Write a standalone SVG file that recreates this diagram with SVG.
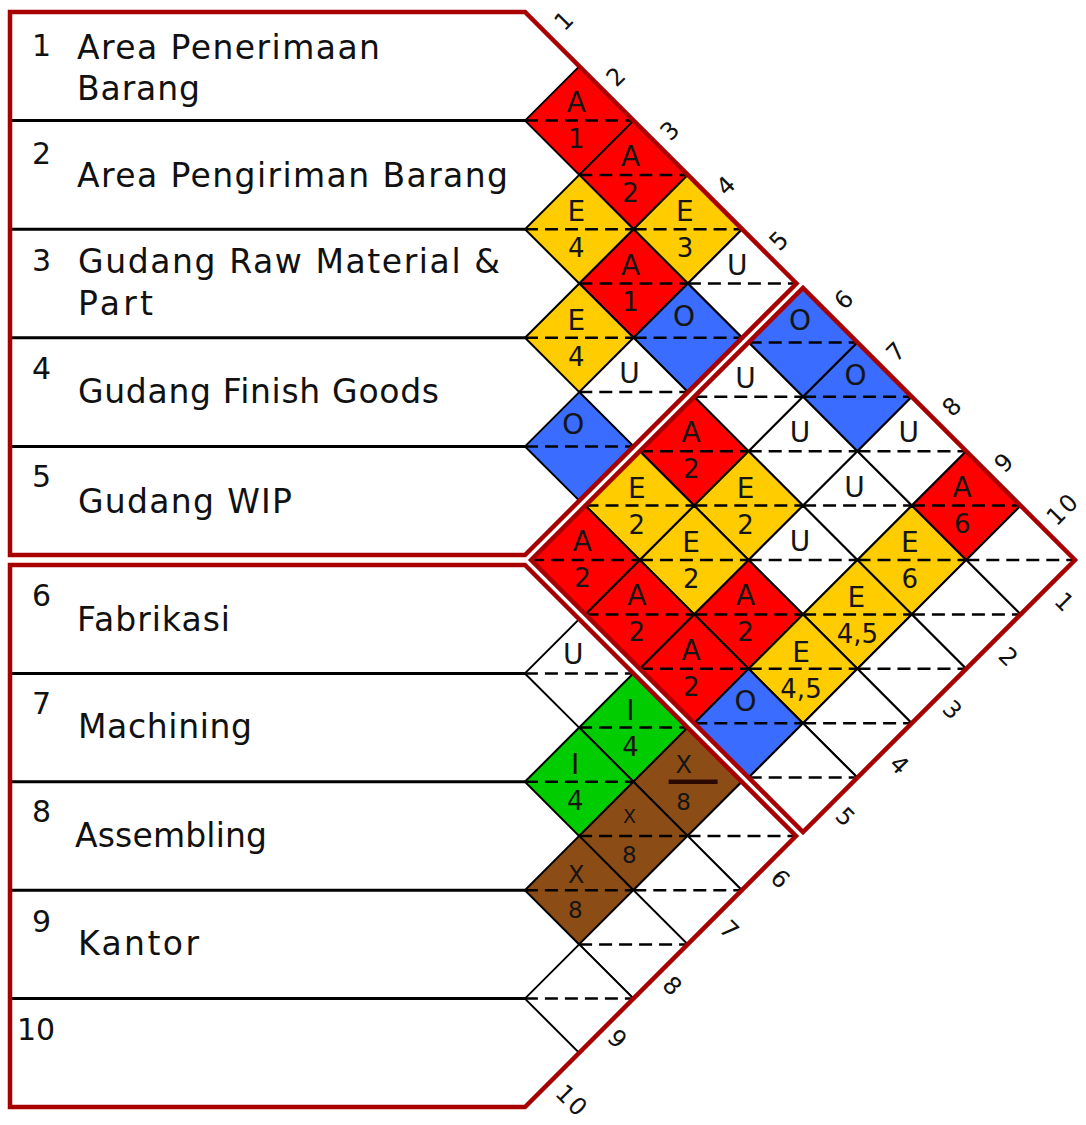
<svg xmlns="http://www.w3.org/2000/svg" xmlns:xlink="http://www.w3.org/1999/xlink" width="1086" height="1125" viewBox="0 0 1086 1125">
<defs>
<style>
.rt{font-family:"DejaVu Sans","Liberation Sans",sans-serif;font-size:33px;fill:#111}
.rn{font-family:"DejaVu Sans","Liberation Sans",sans-serif;font-size:30px;fill:#111}
.rowline{stroke:#000;stroke-width:3}
.cell{stroke:#000;stroke-width:2}
.red{fill:#ff0000}
.yel{fill:#ffcc00}
.blu{fill:#3a6cff}
.grn{fill:#00cc00}
.brn{fill:#8c4c16}
.wht{fill:#fff}
.mid{fill:none;stroke:#000;stroke-width:2.5;stroke-dasharray:13 7}
.lt{font-family:"DejaVu Sans","Liberation Sans",sans-serif;font-size:28px;text-anchor:middle;fill:#151515}
.nm{font-family:"DejaVu Sans","Liberation Sans",sans-serif;font-size:26px;text-anchor:middle;fill:#151515}
.edge{font-family:"DejaVu Sans","Liberation Sans",sans-serif;font-size:24px;text-anchor:middle;dominant-baseline:central;fill:#111}
.outline{fill:none;stroke:#a80000;stroke-width:4.5;stroke-linejoin:miter}
</style>
<path id="d" d="M-54.3 0L0 -54.3L54.3 0L0 54.3Z"/>
<path id="m" d="M-54.3 0H54.3"/>
</defs>
<rect width="1086" height="1125" fill="#fff"/>

<!-- Left department boxes -->
<g id="row-1"><text class="rn" x="32" y="56">1</text><text class="rt" x="77" y="59" textLength="303" lengthAdjust="spacing">Area Penerimaan</text><text class="rt" x="77" y="100" textLength="123" lengthAdjust="spacing">Barang</text></g>
<g id="row-2"><text class="rn" x="32" y="164">2</text><text class="rt" x="77" y="187" textLength="431" lengthAdjust="spacing">Area Pengiriman Barang</text></g>
<g id="row-3"><text class="rn" x="32" y="271">3</text><text class="rt" x="78" y="273" textLength="422" lengthAdjust="spacing">Gudang Raw Material &amp;</text><text class="rt" x="78" y="315" textLength="75" lengthAdjust="spacing">Part</text></g>
<g id="row-4"><text class="rn" x="32" y="379">4</text><text class="rt" x="78" y="403" textLength="361" lengthAdjust="spacing">Gudang Finish Goods</text></g>
<g id="row-5"><text class="rn" x="32" y="487">5</text><text class="rt" x="78" y="513" textLength="214" lengthAdjust="spacing">Gudang WIP</text></g>
<g id="row-6"><text class="rn" x="32" y="606">6</text><text class="rt" x="77" y="631" textLength="153" lengthAdjust="spacing">Fabrikasi</text></g>
<g id="row-7"><text class="rn" x="32" y="714">7</text><text class="rt" x="78" y="738" textLength="174" lengthAdjust="spacing">Machining</text></g>
<g id="row-8"><text class="rn" x="32" y="822">8</text><text class="rt" x="75" y="847" textLength="192" lengthAdjust="spacing">Assembling</text></g>
<g id="row-9"><text class="rn" x="32" y="932">9</text><text class="rt" x="78" y="955" textLength="121" lengthAdjust="spacing">Kantor</text></g>
<g id="row-10"><text class="rn" x="17" y="1040">10</text></g>

<g id="row-lines">
<line class="rowline" x1="10" y1="120.6" x2="525" y2="120.6"/>
<line class="rowline" x1="10" y1="229.2" x2="525" y2="229.2"/>
<line class="rowline" x1="10" y1="337.8" x2="525" y2="337.8"/>
<line class="rowline" x1="10" y1="446.4" x2="525" y2="446.4"/>
<line class="rowline" x1="10" y1="673.4" x2="525" y2="673.4"/>
<line class="rowline" x1="10" y1="781.8" x2="525" y2="781.8"/>
<line class="rowline" x1="10" y1="890.2" x2="525" y2="890.2"/>
<line class="rowline" x1="10" y1="998.6" x2="525" y2="998.6"/>
</g>

<!-- Top group cells (1-5) -->
<g id="c1-2" transform="translate(579.3 120.6)"><use href="#d" class="cell red"/><use href="#m" class="mid"/><text class="lt" x="-3" y="-9">A</text><text class="nm" x="-3" y="27">1</text></g>
<g id="c1-3" transform="translate(633.6 174.9)"><use href="#d" class="cell red"/><use href="#m" class="mid"/><text class="lt" x="-3" y="-9">A</text><text class="nm" x="-3" y="27">2</text></g>
<g id="c1-4" transform="translate(687.9 229.2)"><use href="#d" class="cell yel"/><use href="#m" class="mid"/><text class="lt" x="-3" y="-8">E</text><text class="nm" x="-3" y="28">3</text></g>
<g id="c1-5" transform="translate(742.2 283.5)"><use href="#d" class="cell wht"/><use href="#m" class="mid"/><text class="lt" x="-5" y="-9">U</text></g>
<g id="c2-3" transform="translate(579.3 229.2)"><use href="#d" class="cell yel"/><use href="#m" class="mid"/><text class="lt" x="-3" y="-8">E</text><text class="nm" x="-3" y="28">4</text></g>
<g id="c2-4" transform="translate(633.6 283.5)"><use href="#d" class="cell red"/><use href="#m" class="mid"/><text class="lt" x="-3" y="-9">A</text><text class="nm" x="-3" y="27">1</text></g>
<g id="c2-5" transform="translate(687.9 337.8)"><use href="#d" class="cell blu"/><use href="#m" class="mid"/><text class="lt" x="-4" y="-12">O</text></g>
<g id="c3-4" transform="translate(579.3 337.8)"><use href="#d" class="cell yel"/><use href="#m" class="mid"/><text class="lt" x="-3" y="-8">E</text><text class="nm" x="-3" y="28">4</text></g>
<g id="c3-5" transform="translate(633.6 392.1)"><use href="#d" class="cell wht"/><use href="#m" class="mid"/><text class="lt" x="-4" y="-9">U</text></g>
<g id="c4-5" transform="translate(579.3 446.4)"><use href="#d" class="cell blu"/><use href="#m" class="mid"/><text class="lt" x="-6" y="-12">O</text></g>

<!-- Cross cells (1-5 x 6-10) -->
<g id="c1-6" transform="translate(803 342.4)"><use href="#d" class="cell blu"/><use href="#m" class="mid"/><text class="lt" x="-3" y="-12">O</text></g>
<g id="c1-7" transform="translate(857.4 396.8)"><use href="#d" class="cell blu"/><use href="#m" class="mid"/><text class="lt" x="-2" y="-12">O</text></g>
<g id="c1-8" transform="translate(911.8 451.2)"><use href="#d" class="cell wht"/><use href="#m" class="mid"/><text class="lt" x="-3" y="-9">U</text></g>
<g id="c1-9" transform="translate(966.2 505.6)"><use href="#d" class="cell red"/><use href="#m" class="mid"/><text class="lt" x="-4" y="-9">A</text><text class="nm" x="-4" y="27">6</text></g>
<g id="c1-10" transform="translate(1020.6 560)"><use href="#d" class="cell wht"/><use href="#m" class="mid"/></g>
<g id="c2-6" transform="translate(748.6 396.8)"><use href="#d" class="cell wht"/><use href="#m" class="mid"/><text class="lt" x="-3" y="-9">U</text></g>
<g id="c2-7" transform="translate(803 451.2)"><use href="#d" class="cell wht"/><use href="#m" class="mid"/><text class="lt" x="-3" y="-9">U</text></g>
<g id="c2-8" transform="translate(857.4 505.6)"><use href="#d" class="cell wht"/><use href="#m" class="mid"/><text class="lt" x="-3" y="-9">U</text></g>
<g id="c2-9" transform="translate(911.8 560)"><use href="#d" class="cell yel"/><use href="#m" class="mid"/><text class="lt" x="-2" y="-8">E</text><text class="nm" x="-2" y="28">6</text></g>
<g id="c2-10" transform="translate(966.2 614.4)"><use href="#d" class="cell wht"/><use href="#m" class="mid"/></g>
<g id="c3-6" transform="translate(694.2 451.2)"><use href="#d" class="cell red"/><use href="#m" class="mid"/><text class="lt" x="-3" y="-9">A</text><text class="nm" x="-3" y="27">2</text></g>
<g id="c3-7" transform="translate(748.6 505.6)"><use href="#d" class="cell yel"/><use href="#m" class="mid"/><text class="lt" x="-3" y="-8">E</text><text class="nm" x="-3" y="28">2</text></g>
<g id="c3-8" transform="translate(803 560)"><use href="#d" class="cell wht"/><use href="#m" class="mid"/><text class="lt" x="-3" y="-9">U</text></g>
<g id="c3-9" transform="translate(857.4 614.4)"><use href="#d" class="cell yel"/><use href="#m" class="mid"/><text class="lt" x="-1" y="-7">E</text><text class="nm" x="0" y="29">4,5</text></g>
<g id="c3-10" transform="translate(911.8 668.8)"><use href="#d" class="cell wht"/><use href="#m" class="mid"/></g>
<g id="c4-6" transform="translate(639.8 505.6)"><use href="#d" class="cell yel"/><use href="#m" class="mid"/><text class="lt" x="-3" y="-8">E</text><text class="nm" x="-3" y="28">2</text></g>
<g id="c4-7" transform="translate(694.2 560)"><use href="#d" class="cell yel"/><use href="#m" class="mid"/><text class="lt" x="-3" y="-8">E</text><text class="nm" x="-3" y="28">2</text></g>
<g id="c4-8" transform="translate(748.6 614.4)"><use href="#d" class="cell red"/><use href="#m" class="mid"/><text class="lt" x="-3" y="-9">A</text><text class="nm" x="-3" y="27">2</text></g>
<g id="c4-9" transform="translate(803 668.8)"><use href="#d" class="cell yel"/><use href="#m" class="mid"/><text class="lt" x="-2" y="-7">E</text><text class="nm" x="-2" y="29">4,5</text></g>
<g id="c4-10" transform="translate(857.4 723.2)"><use href="#d" class="cell wht"/><use href="#m" class="mid"/></g>
<g id="c5-6" transform="translate(585.4 560)"><use href="#d" class="cell red"/><use href="#m" class="mid"/><text class="lt" x="-3" y="-9">A</text><text class="nm" x="-3" y="27">2</text></g>
<g id="c5-7" transform="translate(639.8 614.4)"><use href="#d" class="cell red"/><use href="#m" class="mid"/><text class="lt" x="-3" y="-9">A</text><text class="nm" x="-3" y="27">2</text></g>
<g id="c5-8" transform="translate(694.2 668.8)"><use href="#d" class="cell red"/><use href="#m" class="mid"/><text class="lt" x="-3" y="-9">A</text><text class="nm" x="-3" y="27">2</text></g>
<g id="c5-9" transform="translate(748.6 723.2)"><use href="#d" class="cell blu"/><use href="#m" class="mid"/><text class="lt" x="-3" y="-12">O</text></g>
<g id="c5-10" transform="translate(803 777.6)"><use href="#d" class="cell wht"/><use href="#m" class="mid"/></g>

<!-- Bottom group cells (6-10) -->
<g id="c6-7" transform="translate(579.2 673.4)"><use href="#d" class="cell wht"/><use href="#m" class="mid"/><text class="lt" x="-6" y="-9">U</text></g>
<g id="c6-8" transform="translate(633.4 727.6)"><use href="#d" class="cell grn"/><use href="#m" class="mid"/><text class="lt" x="-3" y="-8">I</text><text class="nm" x="-3" y="28">4</text></g>
<g id="c6-9" transform="translate(687.6 781.8)"><use href="#d" class="cell brn"/><line x1="-19" y1="0" x2="30" y2="0" stroke="#2a0a00" stroke-width="4.5"/><text class="lt" x="-4" y="-9" style="font-size:24px">X</text><text class="nm" x="-4" y="28" style="font-size:23px">8</text></g>
<g id="c6-10" transform="translate(741.8 836)"><use href="#d" class="cell wht"/><use href="#m" class="mid"/></g>
<g id="c7-8" transform="translate(579.2 781.8)"><use href="#d" class="cell grn"/><use href="#m" class="mid"/><text class="lt" x="-4" y="-8">I</text><text class="nm" x="-4" y="28">4</text></g>
<g id="c7-9" transform="translate(633.4 836)"><use href="#d" class="cell brn"/><use href="#m" class="mid"/><text class="lt" x="-4" y="-13" style="font-size:19px">X</text><text class="nm" x="-4" y="27" style="font-size:23px">8</text></g>
<g id="c7-10" transform="translate(687.6 890.2)"><use href="#d" class="cell wht"/><use href="#m" class="mid"/></g>
<g id="c8-9" transform="translate(579.2 890.2)"><use href="#d" class="cell brn"/><use href="#m" class="mid"/><text class="lt" x="-3" y="-7" style="font-size:24px">X</text><text class="nm" x="-4" y="28" style="font-size:23px">8</text></g>
<g id="c8-10" transform="translate(633.4 944.4)"><use href="#d" class="cell wht"/><use href="#m" class="mid"/></g>
<g id="c9-10" transform="translate(579.2 998.6)"><use href="#d" class="cell wht"/><use href="#m" class="mid"/></g>

<!-- Red frames -->
<g id="frames">
<polygon class="outline" points="10,12 525,12 796.5,283.5 525,555 10,555"/>
<polygon class="outline" points="531,560 803,288 1075,560 803,832"/>
<polygon class="outline" points="10,565 525,565 796,836 525,1107 10,1107"/>
</g>

<!-- Edge numbers -->
<g id="edge-labels">
<text class="edge" x="564" y="21" transform="rotate(-45 564 21)">1</text>
<text class="edge" x="616" y="77" transform="rotate(-45 616 77)">2</text>
<text class="edge" x="670" y="131" transform="rotate(-45 670 131)">3</text>
<text class="edge" x="726" y="186" transform="rotate(-45 726 186)">4</text>
<text class="edge" x="779" y="241" transform="rotate(-45 779 241)">5</text>
<text class="edge" x="844" y="300" transform="rotate(-45 844 300)">6</text>
<text class="edge" x="896" y="352" transform="rotate(-45 896 352)">7</text>
<text class="edge" x="952" y="407" transform="rotate(-45 952 407)">8</text>
<text class="edge" x="1004" y="463" transform="rotate(-45 1004 463)">9</text>
<text class="edge" x="1063" y="509" transform="rotate(-45 1063 509)" letter-spacing="2">10</text>
<text class="edge" x="1064" y="602" transform="rotate(45 1064 602)">1</text>
<text class="edge" x="1008" y="657" transform="rotate(45 1008 657)">2</text>
<text class="edge" x="952" y="710" transform="rotate(45 952 710)">3</text>
<text class="edge" x="899" y="765" transform="rotate(45 899 765)">4</text>
<text class="edge" x="845" y="817" transform="rotate(45 845 817)">5</text>
<text class="edge" x="780" y="879" transform="rotate(45 780 879)">6</text>
<text class="edge" x="729" y="930" transform="rotate(45 729 930)">7</text>
<text class="edge" x="672" y="986" transform="rotate(45 672 986)">8</text>
<text class="edge" x="617" y="1039" transform="rotate(45 617 1039)">9</text>
<text class="edge" x="572" y="1101" transform="rotate(45 572 1101)" letter-spacing="2">10</text>
</g>
</svg>
